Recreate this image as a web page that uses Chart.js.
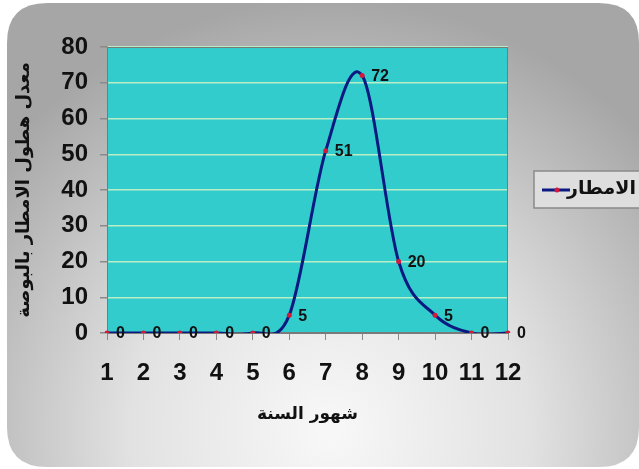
<!DOCTYPE html>
<html>
<head>
<meta charset="utf-8">
<script src="https://cdn.jsdelivr.net/npm/chart.js@4/dist/chart.umd.min.js"></script>
<style>
  html, body { margin: 0; padding: 0; background: #ffffff; }
  #chart { display: block; }
</style>
</head>
<body>
<canvas id="chart" width="639" height="469"></canvas>
<script>
// ===== data =====
const months = ['1', '2', '3', '4', '5', '6', '7', '8', '9', '10', '11', '12'];
const rainfall = [0, 0, 0, 0, 0, 5, 51, 72, 20, 5, 0, 0];
const seriesName = 'الامطار';
const xTitle = 'شهور السنة';
const yTitle = 'معدل هطول الامطار بالبوصة';
const yMin = 0, yMax = 80, yStep = 10;

const numFont = '"Liberation Sans", Arial, sans-serif';
const arFont = '"DejaVu Sans", sans-serif';

function roundRect(ctx, x, y, w, h, r) {
  ctx.beginPath();
  ctx.moveTo(x + r, y);
  ctx.lineTo(x + w - r, y);
  ctx.quadraticCurveTo(x + w, y, x + w, y + r);
  ctx.lineTo(x + w, y + h - r);
  ctx.quadraticCurveTo(x + w, y + h, x + w - r, y + h);
  ctx.lineTo(x + r, y + h);
  ctx.quadraticCurveTo(x, y + h, x, y + h - r);
  ctx.lineTo(x, y + r);
  ctx.quadraticCurveTo(x, y, x + r, y);
  ctx.closePath();
}

// background panel + teal plot area
const backdrop = {
  id: 'backdrop',
  beforeDraw(chart) {
    const { ctx, chartArea: a } = chart;
    ctx.save();
    ctx.fillStyle = '#ffffff';
    ctx.fillRect(0, 0, chart.width, chart.height);
    const g = ctx.createRadialGradient(330, 430, 10, 330, 430, 430);
    g.addColorStop(0, '#f7f7f7');
    g.addColorStop(0.45, '#e2e2e2');
    g.addColorStop(1, '#a6a6a6');
    roundRect(ctx, 7, 3, 632, 464, 40);
    ctx.fillStyle = g;
    ctx.fill();
    ctx.fillStyle = '#33cccc';
    ctx.fillRect(a.left, a.top, a.right - a.left, a.bottom - a.top);
    ctx.restore();
  },
  beforeDatasetsDraw(chart) {
    const { ctx, chartArea: a } = chart;
    ctx.save();
    ctx.strokeStyle = '#7a7a7a';
    ctx.lineWidth = 1;
    ctx.strokeRect(a.left + 0.5, a.top + 0.5, a.right - a.left - 1, a.bottom - a.top - 1);
    ctx.restore();
  }
};

// excel-like smoothing: uniform catmull-rom control points
const excelSmooth = {
  id: 'excelSmooth',
  beforeDatasetDraw(chart, args) {
    const meta = args.meta;
    const pts = meta.data;
    meta.dataset.updateControlPoints(chart.chartArea, 'x');
    const k = 1 / 6;
    for (let i = 0; i < pts.length; i++) {
      const p = pts[i];
      const prev = pts[i - 1] || p;
      const next = pts[i + 1] || p;
      const dx = (next.x - prev.x) * k;
      const dy = (next.y - prev.y) * k;
      p.cp1x = p.x - dx; p.cp1y = p.y - dy;
      p.cp2x = p.x + dx; p.cp2y = p.y + dy;
    }
  }
};

// value labels right of each point
const pointLabels = {
  id: 'pointLabels',
  afterDatasetsDraw(chart) {
    const { ctx } = chart;
    const meta = chart.getDatasetMeta(0);
    const values = chart.data.datasets[0].data;
    ctx.save();
    ctx.font = 'bold 16px ' + numFont;
    ctx.fillStyle = '#111111';
    ctx.textAlign = 'left';
    ctx.textBaseline = 'middle';
    meta.data.forEach((pt, i) => {
      ctx.fillText(String(values[i]), pt.x + 9, pt.y + 1);
    });
    ctx.restore();
  }
};

// legend box on the right
const legendBox = {
  id: 'legendBox',
  afterDraw(chart) {
    const { ctx } = chart;
    const ds = chart.data.datasets[0];
    ctx.save();
    ctx.fillStyle = '#dedede';
    ctx.strokeStyle = '#8a8a8a';
    ctx.lineWidth = 1.5;
    ctx.fillRect(534, 171, 110, 37);
    ctx.strokeRect(534, 171, 110, 37);
    ctx.strokeStyle = ds.borderColor;
    ctx.lineWidth = 3;
    ctx.beginPath();
    ctx.moveTo(542, 190);
    ctx.lineTo(570, 190);
    ctx.stroke();
    ctx.fillStyle = ds.pointBackgroundColor;
    ctx.beginPath();
    ctx.arc(557, 190, 2.5, 0, Math.PI * 2);
    ctx.fill();
    ctx.font = 'bold 19px ' + arFont;
    ctx.fillStyle = '#111111';
    ctx.textAlign = 'right';
    ctx.textBaseline = 'middle';
    ctx.direction = 'rtl';
    ctx.fillText(ds.label, 636, 189);
    ctx.restore();
  }
};

const ctx = document.getElementById('chart').getContext('2d');
new Chart(ctx, {
  type: 'line',
  data: {
    labels: months,
    datasets: [{
      label: seriesName,
      data: rainfall,
      borderColor: '#0a1a80',
      borderWidth: 3,
      tension: 0.3,
      pointRadius: 2.5,
      pointHoverRadius: 2.5,
      pointBackgroundColor: '#d4183c',
      pointBorderWidth: 0,
      fill: false
    }]
  },
  options: {
    responsive: false,
    animation: false,
    layout: { padding: { top: 47, right: 131, bottom: 0, left: 0 } },
    plugins: {
      legend: { display: false },
      tooltip: { enabled: false }
    },
    scales: {
      x: {
        type: 'category',
        offset: false,
        afterFit: s => { s.height = 136; },
        grid: {
          drawOnChartArea: false,
          tickLength: 7,
          tickColor: '#8a8a8a'
        },
        border: { display: true, color: '#7a7a7a' },
        ticks: {
          color: '#111111',
          font: { family: numFont, size: 24, weight: 'bold' },
          padding: 19,
          maxRotation: 0,
          autoSkip: false
        },
        title: {
          display: true,
          text: xTitle,
          color: '#111111',
          font: { family: arFont, size: 17, weight: 'bold' },
          padding: { top: 0, bottom: 44 }
        }
      },
      y: {
        min: yMin,
        max: yMax,
        afterFit: s => { s.width = 107; },
        grid: {
          color: '#b8eec6',
          lineWidth: 1.5,
          tickLength: 7,
          tickColor: '#8a8a8a'
        },
        border: { display: true, color: '#7a7a7a' },
        ticks: {
          stepSize: yStep,
          color: '#111111',
          font: { family: numFont, size: 24, weight: 'bold' },
          padding: 12
        },
        title: {
          display: true,
          text: yTitle,
          color: '#111111',
          font: { family: arFont, size: 18, weight: 'bold' },
          padding: { top: 14, bottom: 0 }
        }
      }
    }
  },
  plugins: [backdrop, excelSmooth, pointLabels, legendBox]
});
</script>
</body>
</html>
